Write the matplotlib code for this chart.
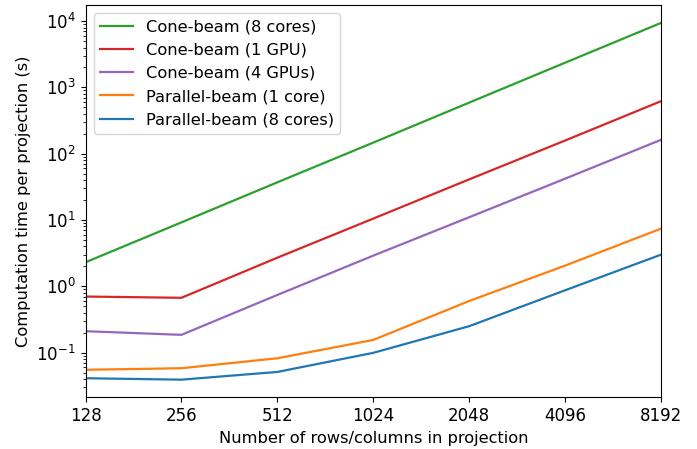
import numpy as np
import matplotlib.pyplot as plt
from matplotlib import ticker

# Projection sizes (rows/columns)
sizes = [128, 256, 512, 1024, 2048, 4096, 8192]

# Computation time per projection (s)
cone_8cores = [2.3, 9.2, 37, 147, 590, 2360, 9400]
cone_1gpu = [0.70, 0.67, 2.7, 10.5, 41, 158, 620]
cone_4gpus = [0.21, 0.185, 0.74, 2.9, 11, 42, 162]
par_1core = [0.055, 0.058, 0.082, 0.155, 0.6, 2.05, 7.4]
par_8cores = [0.041, 0.039, 0.051, 0.099, 0.25, 0.87, 3.0]

fig = plt.figure(figsize=(6.97, 4.49), dpi=100)
ax = fig.add_axes([0.1227, 0.1147, 0.8257, 0.874])

ax.plot(sizes, cone_8cores, color='tab:green', lw=1.6, label='Cone-beam (8 cores)')
ax.plot(sizes, cone_1gpu, color='tab:red', lw=1.6, label='Cone-beam (1 GPU)')
ax.plot(sizes, cone_4gpus, color='tab:purple', lw=1.6, label='Cone-beam (4 GPUs)')
ax.plot(sizes, par_1core, color='tab:orange', lw=1.6, label='Parallel-beam (1 core)')
ax.plot(sizes, par_8cores, color='tab:blue', lw=1.6, label='Parallel-beam (8 cores)')

ax.set_xscale('log', base=2)
ax.set_yscale('log')
ax.set_xlim(128, 8192)
ax.set_xticks(sizes)
ax.set_xticklabels([str(s) for s in sizes])
ax.xaxis.set_minor_locator(ticker.NullLocator())
ax.yaxis.set_minor_locator(ticker.LogLocator(base=10, subs=np.arange(2, 10), numticks=20))
ax.yaxis.set_minor_formatter(ticker.NullFormatter())
ax.tick_params(axis='both', labelsize=12)

ax.set_xlabel('Number of rows/columns in projection', fontsize=11.7)
ax.set_ylabel('Computation time per projection (s)', fontsize=11.7)
ax.legend(loc='upper left', fontsize=11.7)

plt.savefig('out.png')
